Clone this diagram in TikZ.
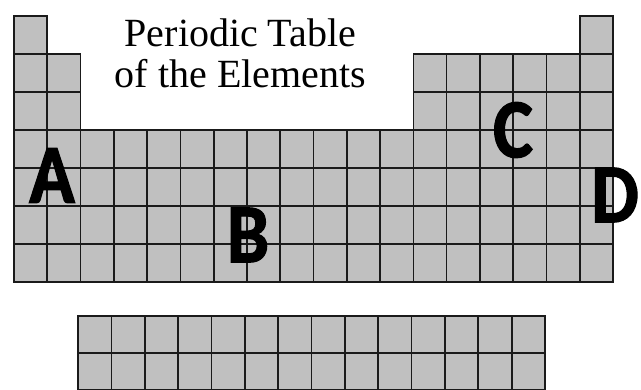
\documentclass[tikz,border=0pt]{standalone}
\usepackage{fontspec}
\setmainfont{Liberation Serif}
\newfontfamily\letterfont[BoldFeatures={FakeBold=1.5}]{Carlito}
\usetikzlibrary{positioning}
\definecolor{cellgray}{HTML}{C0C0C0}
\definecolor{gridline}{HTML}{1A1A1A}
\newcommand{\pcell}[2]{\draw[cell] ({14+(#1-1)*33.28},{373-(#2-1)*38}) rectangle ++(33.28,-38);}
\newcommand{\fcell}[2]{\draw[cell] ({78+(#1-1)*33.36},{73-(#2-1)*37}) rectangle ++(33.36,-37);}
\tikzset{
  cell/.style={draw=gridline, fill=cellgray, line width=1.7pt},
  bigletter/.style={font=\letterfont\bfseries\fontsize{84}{84}\selectfont, inner sep=0pt, text=black, xscale=0.9},
  titletext/.style={font=\fontsize{40}{41}\selectfont, align=center, inner sep=0pt}
}
\begin{document}
\begin{tikzpicture}[x=1pt, y=1pt]
 \useasboundingbox (0,0) rectangle (641,389);
 \begin{scope}
  \clip (0,0) rectangle (641,389);
  % main block, row 1 at the top
  \foreach \c in {1,18} {\pcell{\c}{1}}
  \foreach \r in {2,3} {\foreach \c in {1,2,13,14,...,18} {\pcell{\c}{\r}}}
  \foreach \r in {4,...,7} {\foreach \c in {1,...,18} {\pcell{\c}{\r}}}
  % two rows underneath
  \foreach \r in {1,2} {\foreach \c in {1,...,14} {\fcell{\c}{\r}}}

  \node[titletext, anchor=north] (title) at (240.5,370.5) {Periodic Table\\of the Elements};

  \node[bigletter] (A) at (52,213.5) {A};
  \node[bigletter] (B) at (248,154) {B};
  \node[bigletter] (C) at (513,259) {C};
  \node[bigletter] (D) at (615,194) {D};
 \end{scope}
\end{tikzpicture}
\end{document}
